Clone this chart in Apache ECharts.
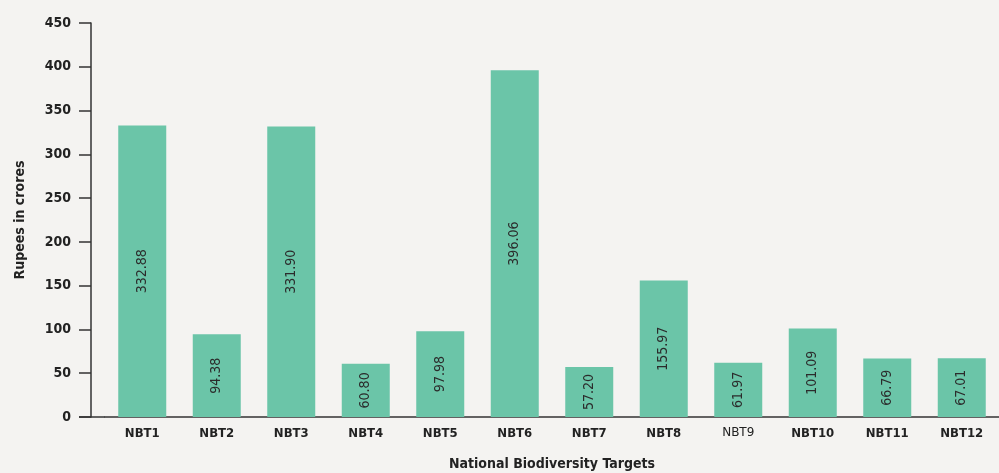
<!DOCTYPE html>
<html>
<head>
<meta charset="utf-8">
<script src="https://cdn.jsdelivr.net/npm/echarts@6/dist/echarts.min.js"></script>
<style>
  html, body { margin: 0; padding: 0; background: #f4f3f1; }
  #chart { width: 999px; height: 473px; }
</style>
</head>
<body>
<div id="chart"></div>
<script>
// Funds allocated per National Biodiversity Target (Rupees in crores)
const targets = ['NBT1', 'NBT2', 'NBT3', 'NBT4', 'NBT5', 'NBT6', 'NBT7', 'NBT8', 'NBT9', 'NBT10', 'NBT11', 'NBT12'];
const rupeesCrores = [332.88, 94.38, 331.90, 60.80, 97.98, 396.06, 57.20, 155.97, 61.97, 101.09, 66.79, 67.01];
const yTicks = [0, 50, 100, 150, 200, 250, 300, 350, 400, 450];

const condensed = '"Liberation Sans Narrow", "DejaVu Sans Condensed", "Arial Narrow", sans-serif';
const ink = '#222222';

const chart = echarts.init(document.getElementById('chart'), null, { renderer: 'canvas' });

chart.setOption({
  backgroundColor: '#f4f3f1',
  animation: false,
  grid: { left: 105, right: 0, top: 23, bottom: 56, outerBoundsMode: 'none', containLabel: false },
  xAxis: {
    type: 'category',
    data: targets,
    name: 'National Biodiversity Targets',
    nameLocation: 'middle',
    nameGap: 40,
    nameTextStyle: { fontFamily: condensed, fontWeight: 'bold', fontSize: 14, color: ink },
    axisLine: { lineStyle: { color: '#333333', width: 1.5 } },
    axisTick: { show: false },
    axisLabel: {
      interval: 0,
      margin: 10,
      fontFamily: condensed, fontWeight: 'bold', fontSize: 13, color: ink,
      formatter: function (v) { return v === 'NBT9' ? '{plain|' + v + '}' : v; },
      rich: { plain: { fontFamily: '"DejaVu Sans", sans-serif', fontWeight: 'normal', fontSize: 12, color: ink } }
    }
  },
  yAxis: {
    type: 'value',
    min: yTicks[0],
    max: yTicks[yTicks.length - 1],
    interval: yTicks[1] - yTicks[0],
    offset: 14,
    name: 'Rupees in crores',
    nameLocation: 'middle',
    nameGap: 64,
    nameTextStyle: { fontFamily: condensed, fontWeight: 'bold', fontSize: 14, color: ink },
    axisLine: { show: true, lineStyle: { color: '#333333', width: 1.5 } },
    axisTick: { show: true, length: 12, lineStyle: { color: '#333333', width: 1.5 } },
    splitLine: { show: false },
    axisLabel: { margin: 20, fontFamily: condensed, fontWeight: 'bold', fontSize: 14, color: ink }
  },
  series: [{
    type: 'bar',
    data: rupeesCrores,
    barWidth: 48,
    itemStyle: { color: '#6bc5a8' },
    label: {
      show: true,
      position: 'inside',
      rotate: 90,
      formatter: function (p) { return p.value.toFixed(2); },
      fontFamily: condensed,
      fontSize: 14,
      color: '#2b2b2b'
    }
  }]
});

// Extend the baseline left to the end of the zero tick on the y axis
const y0 = chart.convertToPixel({ yAxisIndex: 0 }, 0);
const gridLeft = 105, yOffset = 14, tickLen = 12;
chart.setOption({
  graphic: [{
    type: 'line',
    shape: { x1: gridLeft - yOffset - tickLen, y1: y0, x2: gridLeft, y2: y0 },
    style: { stroke: '#333333', lineWidth: 1.5 }
  }]
});
</script>
</body>
</html>
